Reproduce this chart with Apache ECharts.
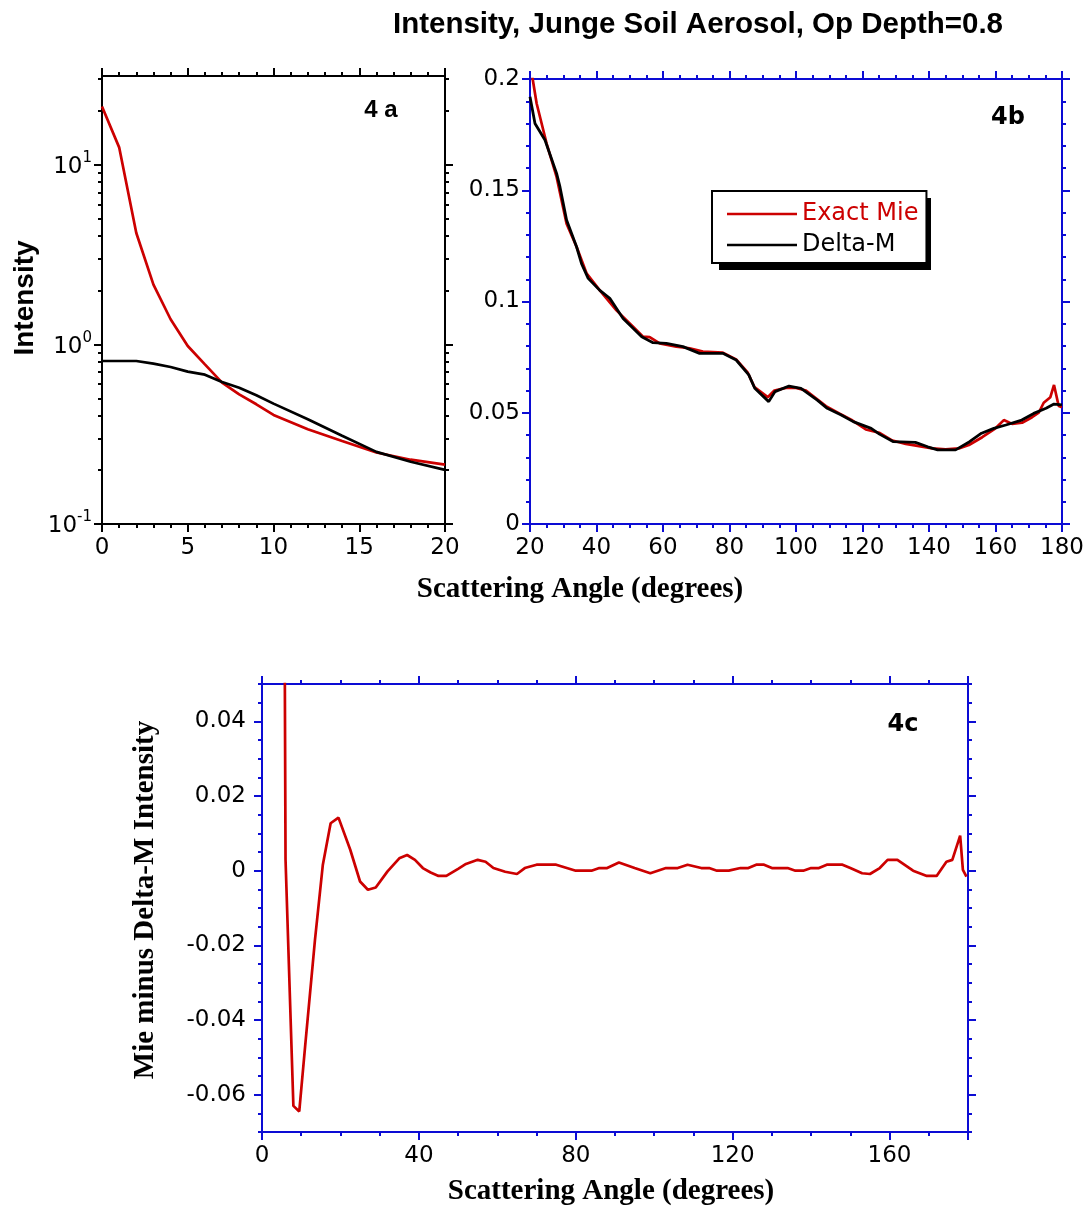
<!DOCTYPE html>
<html><head><meta charset="utf-8">
<script src="https://cdn.jsdelivr.net/npm/echarts@6/dist/echarts.min.js"></script>
<style>html,body{margin:0;padding:0;background:#fff}#c{width:1088px;height:1210px}</style>
</head><body><div id="c"></div>
<script>
// ---------- Panel 4a (log scale, 0-20 deg) ----------
const angleA = [0,1,2,3,4,5,6,7,8,9,10,12,14,16,18,20];
const mieA   = [21.1,12.5,4.17,2.15,1.38,0.98,0.774,0.613,0.527,0.464,0.405,0.337,0.290,0.250,0.228,0.214];
const dmA    = [0.808,0.808,0.808,0.781,0.748,0.705,0.678,0.617,0.574,0.521,0.468,0.383,0.310,0.252,0.222,0.200];
const logMajorTicks = [0.1,1,10];
const logMinorTicks = [0.2,0.3,0.4,0.5,0.6,0.7,0.8,0.9,2,3,4,5,6,7,8,9,20,30];

// ---------- Panel 4b (20-180 deg) ----------
const angleMieB = [20,20.8,22,25,28,31,34,37,41,46,51,54,56,59,64,68,72,78,82,85.5,87.5,91.5,93.5,97,100,103,106,109,113,117,121,125,129,133,137,141,145,149,152,156,160,162.5,165,168,171,173,174.5,176.5,177.6,179,180];
const mieB = [0.212,0.2,0.189,0.171,0.156,0.135,0.1246,0.1127,0.105,0.096,0.0887,0.0842,0.084,0.0812,0.0797,0.079,0.0775,0.077,0.074,0.068,0.0615,0.057,0.060,0.0612,0.0612,0.060,0.0565,0.053,0.0497,0.0465,0.0425,0.041,0.0375,0.036,0.035,0.034,0.0335,0.034,0.0355,0.039,0.043,0.0467,0.045,0.0455,0.048,0.050,0.0545,0.057,0.0625,0.053,0.0525];
const angleDmB = [20,21.5,24.5,28,29,31,34,35.5,37.5,41,44,48,51,53.6,57,61,66,71,78,82,85.8,87.6,91.8,93.7,97.9,101.5,106.4,109.4,113.6,117.2,122.6,125.1,129.3,135.9,139.6,142.6,148,152.2,155.8,159.5,163.1,167.9,171.5,175.2,177.6,180];
const dmB = [0.192,0.180,0.1726,0.1576,0.1516,0.1366,0.1246,0.117,0.1104,0.105,0.1014,0.0924,0.088,0.0842,0.0815,0.0812,0.0797,0.0767,0.0767,0.0737,0.067,0.061,0.055,0.0595,0.062,0.061,0.0557,0.052,0.049,0.046,0.043,0.0404,0.037,0.0367,0.0347,0.0333,0.0333,0.037,0.0408,0.043,0.0445,0.0467,0.0497,0.052,0.0539,0.0535];

// ---------- Panel 4c (difference) ----------
const angleC = [0,1,2,3,4,5,6,8,9.5,11,13.5,15.5,17.5,19.5,22.5,25,27,29,32,35,37,39,41,43,45,47,50,52,55,57,59,62,65,67,70,75,80,84,86,88,91,95,99,103,106,108.5,112,114,116,119,122,124,126,128,130,134,136,138,140,142,144,148,150,153,155,157.5,159.5,162,166,169.5,172,174.5,176,178,178.7,179.6];
const diffC = [20.3,11.7,3.36,1.37,0.63,0.275,0.003,-0.063,-0.0645,-0.047,-0.0186,0.0015,0.0127,0.0142,0.0056,-0.0029,-0.0051,-0.0045,-0.0002,0.0033,0.0042,0.0029,0.0007,-0.0005,-0.0014,-0.0014,0.0005,0.0018,0.0029,0.0024,0.0007,-0.0003,-0.0009,0.0007,0.0016,0.0016,0,0,0.0007,0.0007,0.0022,0.0007,-0.0007,0.0007,0.0007,0.0016,0.0007,0.0007,0,0,0.0007,0.0007,0.0016,0.0016,0.0007,0.0007,0,0,0.0007,0.0007,0.0016,0.0016,0.0007,-0.0007,-0.0009,0.0007,0.0029,0.0029,0,-0.0014,-0.0014,0.0024,0.0029,0.0094,0.0002,-0.0016];
const majorC = [-0.06,-0.04,-0.02,0,0.02,0.04];

const RED = '#cc0000', BLUE = '#0c0cd4', BLACK = '#000000';
const TICK_FONT = 'DejaVu Sans';
function pairs(xs, ys){ return xs.map((x,i)=>[x, ys[i]]); }

function axis(o){
  const a = {
    type: o.type || 'value', gridIndex: o.grid, position: o.pos,
    min: o.min, max: o.max,
    axisLine: {show: o.line !== false, onZero: false, lineStyle: {color: o.color, width: 2}},
    axisTick: {show: true, inside: false, length: o.len || 8, lineStyle: {color: o.color, width: 2}},
    minorTick: {show: !!o.minor, splitNumber: o.minor || 5, length: 4, lineStyle: {color: o.color, width: 2}},
    splitLine: {show: false}, minorSplitLine: {show: false},
    axisLabel: {show: !!o.labels, margin: o.margin || 10, fontFamily: TICK_FONT, fontSize: 23, color: '#000', showMinLabel: true, showMaxLabel: o.noMax ? false : true}
  };
  if (o.interval != null) a.interval = o.interval;
  if (o.ticks) a.axisTick.customValues = o.ticks;
  if (o.labelValues) a.axisLabel.customValues = o.labelValues;
  if (o.formatter) a.axisLabel.formatter = o.formatter;
  if (o.rich) a.axisLabel.rich = o.rich;
  if (o.logBase) a.logBase = o.logBase;
  return a;
}

const logFmt = v => '{b|10}{s|' + Math.round(Math.log10(v)) + '}';
const logRich = {
  b: {fontFamily: TICK_FONT, fontSize: 23, color: '#000', lineHeight: 28, verticalAlign: 'bottom'},
  s: {fontFamily: TICK_FONT, fontSize: 15, color: '#000', lineHeight: 28, verticalAlign: 'top'}
};

const txt = (x, y, text, font, rot) => ({
  type:'text', x:x, y:y, rotation: rot || 0,
  style:{text:text, font:font, fill:'#000', textAlign:'center', align:'center', textVerticalAlign:'middle', verticalAlign:'middle'}
});

const option = {
  animation: false,
  backgroundColor: '#fff',
  grid: [
    {left: 102, top: 76, width: 343, height: 448},
    {left: 530, top: 79, width: 532, height: 445},
    {left: 262, top: 684, width: 706, height: 448}
  ],
  xAxis: [
    axis({grid:0, pos:'bottom', min:0, max:20, interval:5, minor:5, color:BLACK, labels:true, margin:13}),
    axis({grid:0, pos:'top', min:0, max:20, interval:5, minor:5, color:BLACK}),
    axis({grid:1, pos:'bottom', min:20, max:180, interval:20, minor:4, color:BLUE, labels:true, margin:13}),
    axis({grid:1, pos:'top', min:20, max:180, interval:20, minor:4, color:BLUE}),
    axis({grid:2, pos:'bottom', min:0, max:180, interval:40, minor:4, color:BLUE, labels:true, margin:13, noMax:true}),
    axis({grid:2, pos:'top', min:0, max:180, interval:40, minor:4, color:BLUE})
  ],
  yAxis: [
    axis({grid:0, pos:'left', type:'log', logBase:10, min:0.1, max:31.2, color:BLACK, labels:true, margin:10, ticks:logMajorTicks, labelValues:logMajorTicks, formatter:logFmt, rich:logRich}),
    axis({grid:0, pos:'right', type:'log', logBase:10, min:0.1, max:31.2, color:BLACK, ticks:logMajorTicks}),
    axis({grid:0, pos:'left', type:'log', logBase:10, min:0.1, max:31.2, color:BLACK, line:false, len:4, ticks:logMinorTicks}),
    axis({grid:0, pos:'right', type:'log', logBase:10, min:0.1, max:31.2, color:BLACK, line:false, len:4, ticks:logMinorTicks}),
    axis({grid:1, pos:'left', min:0, max:0.2, interval:0.05, minor:5, color:BLUE, labels:true, margin:10}),
    axis({grid:1, pos:'right', min:0, max:0.2, interval:0.05, minor:5, color:BLUE}),
    axis({grid:2, pos:'left', min:-0.07, max:0.05, color:BLUE, labels:true, margin:16, ticks:majorC, labelValues:majorC}),
    axis({grid:2, pos:'right', min:-0.07, max:0.05, color:BLUE, ticks:majorC}),
    axis({grid:2, pos:'left', min:-0.07, max:0.05, interval:0.005, color:BLUE, line:false, len:4}),
    axis({grid:2, pos:'right', min:-0.07, max:0.05, interval:0.005, color:BLUE, line:false, len:4})
  ],
  legend: {
    data: [{name:'Exact Mie', textStyle:{color: RED}}, {name:'Delta-M', textStyle:{color: BLACK}}],
    left: 712, top: 191, orient: 'vertical', icon: 'rect', itemWidth: 70, itemHeight: 2.5, itemGap: 7,
    padding: [11, 8, 6, 15],
    textStyle: {fontFamily: TICK_FONT, fontSize: 24},
    backgroundColor: '#fff', borderColor: '#000', borderWidth: 2, borderRadius: 0,
    selectedMode: false, z: 6
  },
  series: [
    {name:'Mie 4a', type:'line', xAxisIndex:0, yAxisIndex:0, data:pairs(angleA, mieA), symbol:'none', color:RED, lineStyle:{color:RED, width:2.7}},
    {name:'DM 4a', type:'line', xAxisIndex:0, yAxisIndex:0, data:pairs(angleA, dmA), symbol:'none', color:BLACK, lineStyle:{color:BLACK, width:2.7}},
    {name:'Exact Mie', type:'line', xAxisIndex:2, yAxisIndex:4, data:pairs(angleMieB, mieB), symbol:'none', color:RED, lineStyle:{color:RED, width:2.7}},
    {name:'Delta-M', type:'line', xAxisIndex:2, yAxisIndex:4, data:pairs(angleDmB, dmB), symbol:'none', color:BLACK, lineStyle:{color:BLACK, width:2.8}},
    {name:'Diff 4c', type:'line', xAxisIndex:4, yAxisIndex:6, data:pairs(angleC, diffC), symbol:'none', color:RED, lineStyle:{color:RED, width:2.7}}
  ],
  graphic: [
    {type:'rect', z:5, shape:{x:719, y:198, width:212, height:72}, style:{fill:'#000'}},
    txt(698, 25, 'Intensity, Junge Soil Aerosol, Op Depth=0.8', 'bold 29.5px "Liberation Sans"'),
    txt(25, 298, 'Intensity', 'bold 28px "Liberation Sans"', Math.PI/2),
    txt(580, 590, 'Scattering Angle (degrees)', 'bold 29px "Liberation Serif"'),
    txt(611, 1192, 'Scattering Angle (degrees)', 'bold 29px "Liberation Serif"'),
    txt(146, 900, 'Mie minus Delta-M Intensity', 'bold 29px "Liberation Serif"', Math.PI/2),
    txt(381, 110, '4 a', 'bold 24px "Liberation Sans"'),
    txt(1008, 118, '4b', 'bold 24px "DejaVu Sans"'),
    txt(903, 725, '4c', 'bold 24px "DejaVu Sans"')
  ]
};
const chart = echarts.init(document.getElementById('c'));
chart.setOption(option);
</script></body></html>
